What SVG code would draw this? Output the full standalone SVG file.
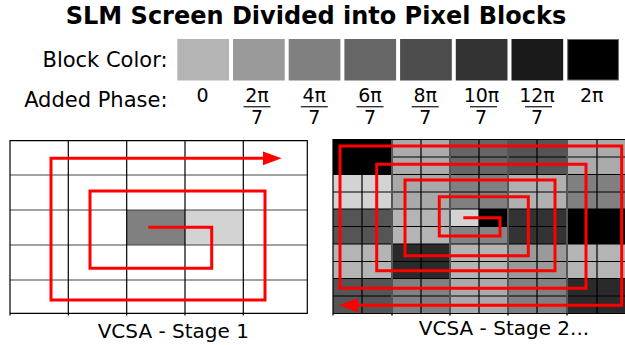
<svg xmlns="http://www.w3.org/2000/svg" width="625" height="345" viewBox="0 0 625 345">
<style>
  .title{font-family:"DejaVu Sans",Verdana,sans-serif;font-weight:bold;font-size:24px;fill:#000}
  .lbl{font-family:"DejaVu Sans",Verdana,sans-serif;font-size:21px;fill:#000}
  .num{font-family:"DejaVu Sans",Verdana,sans-serif;font-size:19px;fill:#000;text-anchor:middle}
  .cap{font-family:"DejaVu Sans",Verdana,sans-serif;font-size:20px;fill:#000;text-anchor:middle}
  .bar{stroke:#333;stroke-width:1.4}
  .gl{stroke:#000;stroke-width:1.2;fill:none}
  .gh{stroke:#444;stroke-width:1.2;fill:none}
  .gm{stroke:#555;stroke-width:2;fill:none}
  .spiral{fill:none;stroke:#ff0000;stroke-width:3;stroke-linejoin:miter}
</style>
<defs>
  <marker id="arr" viewBox="0 0 19 14" refX="11" refY="7" markerWidth="19" markerHeight="14" markerUnits="userSpaceOnUse" orient="auto">
    <path d="M0,0 L19,7 L0,14 Z" fill="#ff0000"/>
  </marker>
</defs>
<rect width="625" height="345" fill="#fff"/>

<g id="title">
  <text class="title" x="316" y="23.5" text-anchor="middle">SLM Screen Divided into Pixel Blocks</text>
</g>

<g id="legend">
  <text class="lbl" x="167.5" y="66.7" text-anchor="end">Block Color:</text>
  <text class="lbl" x="167.5" y="106.7" text-anchor="end">Added Phase:</text>
  <rect x="177.3" y="39" width="51.7" height="41.5" fill="#b4b4b4"/>
  <rect x="233" y="39" width="51.7" height="41.5" fill="#9a9a9a"/>
  <rect x="288.7" y="39" width="51.7" height="41.5" fill="#808080"/>
  <rect x="344.4" y="39" width="51.7" height="41.5" fill="#676767"/>
  <rect x="400.1" y="39" width="51.7" height="41.5" fill="#4d4d4d"/>
  <rect x="455.8" y="39" width="51.7" height="41.5" fill="#333333"/>
  <rect x="511.5" y="39" width="51.7" height="41.5" fill="#1a1a1a"/>
  <rect x="567.7" y="39.5" width="50.7" height="40.5" fill="#000" stroke="#666" stroke-width="1"/>
  <text class="num" x="202.5" y="101.5">0</text>
  <text class="num" x="257" y="101.5">2π</text>
  <line class="bar" x1="243.5" y1="106.7" x2="270.5" y2="106.7"/>
  <text class="num" x="257" y="124.2">7</text>
  <text class="num" x="314.3" y="101.5">4π</text>
  <line class="bar" x1="300.8" y1="106.7" x2="327.8" y2="106.7"/>
  <text class="num" x="314.3" y="124.2">7</text>
  <text class="num" x="370" y="101.5">6π</text>
  <line class="bar" x1="356.5" y1="106.7" x2="383.5" y2="106.7"/>
  <text class="num" x="370" y="124.2">7</text>
  <text class="num" x="425.2" y="101.5">8π</text>
  <line class="bar" x1="411.7" y1="106.7" x2="438.7" y2="106.7"/>
  <text class="num" x="425.2" y="124.2">7</text>
  <text class="num" x="481.5" y="101.5">10π</text>
  <line class="bar" x1="470" y1="106.7" x2="497" y2="106.7"/>
  <text class="num" x="481" y="124.2">7</text>
  <text class="num" x="537" y="101.5">12π</text>
  <line class="bar" x1="525" y1="106.7" x2="552" y2="106.7"/>
  <text class="num" x="537" y="124.2">7</text>
  <text class="num" x="591.7" y="101.5">2π</text>
</g>

<g id="grid-stage1">
  <rect x="126.7" y="210" width="58.3" height="35" fill="#808080"/>
  <rect x="185" y="210" width="58.3" height="35" fill="#d3d3d3"/>
  <path class="gh" d="M10,175 H307.3 M10,210 H307.3 M10,245 H307.3 M10,280 H307.3"/>
  <path class="gl" d="M68.3,140.7 V315.5 M126.7,140.7 V315.5 M185,140.7 V315.5 M243.3,140.7 V315.5"/>
  <path class="gl" d="M10,315.5 V140.7 H307.3 V313.3 H10"/>
</g>

<g id="grid-stage2">
  <rect x="333" y="139.5" width="59" height="35" fill="#000"/>
  <rect x="392" y="139.5" width="58" height="35" fill="#aaaaaa"/>
  <rect x="450" y="139.5" width="58" height="35" fill="#666666"/>
  <rect x="508" y="139.5" width="59" height="35" fill="#555555"/>
  <rect x="567" y="139.5" width="59" height="35" fill="#aaaaaa"/>

  <rect x="333" y="174.5" width="59" height="34.5" fill="#d3d3d3"/>
  <rect x="392" y="174.5" width="58" height="34.5" fill="#a9a9a9"/>
  <rect x="450" y="174.5" width="58" height="34.5" fill="#808080"/>
  <rect x="508" y="174.5" width="59" height="34.5" fill="#b0b0b0"/>
  <rect x="567" y="174.5" width="59" height="34.5" fill="#808080"/>

  <rect x="333" y="209" width="59" height="35" fill="#555555"/>
  <rect x="392" y="209" width="58" height="35" fill="#b4b4b4"/>
  <rect x="450" y="209" width="29" height="17.5" fill="#d3d3d3"/>
  <rect x="479" y="209" width="29" height="17.5" fill="#000"/>
  <rect x="450" y="226.5" width="58" height="17.5" fill="#848484"/>
  <rect x="508" y="209" width="59" height="35" fill="#333333"/>
  <rect x="567" y="209" width="59" height="35" fill="#000"/>

  <rect x="333" y="244" width="59" height="34.5" fill="#b4b4b4"/>
  <rect x="392" y="244" width="58" height="34.5" fill="#2a2a2a"/>
  <rect x="450" y="244" width="58" height="34.5" fill="#b4b4b4"/>
  <rect x="508" y="244" width="59" height="34.5" fill="#9a9a9a"/>
  <rect x="567" y="244" width="59" height="34.5" fill="#b4b4b4"/>

  <rect x="333" y="278.5" width="59" height="35" fill="#555555"/>
  <rect x="392" y="278.5" width="58" height="35" fill="#808080"/>
  <rect x="450" y="278.5" width="58" height="35" fill="#aaaaaa"/>
  <rect x="508" y="278.5" width="59" height="35" fill="#808080"/>
  <rect x="567" y="278.5" width="59" height="35" fill="#2a2a2a"/>

  <path class="gl" d="M333,157 H626 M333,174.5 H626 M333,192 H626 M333,209 H626 M333,226.5 H626 M333,244 H626 M333,261.5 H626 M333,278.5 H626 M333,296 H626"/>
  <path class="gl" d="M362,139.5 V313.5 M421,139.5 V313.5 M479,139.5 V313.5 M537,139.5 V313.5 M597,139.5 V313.5"/>
  <path class="gm" d="M392,139.5 V315.5 M450,139.5 V315.5 M508,139.5 V315.5 M567,139.5 V315.5"/>
  <path class="gl" d="M333,315.5 V139.5 H626 M333,313.5 H626"/>
</g>

<g id="connectors">
  <path class="spiral" d="M148.3,227.3 H211.7 V268.3 H90 V191 H265 V300 H51 V158.3 H273.7" marker-end="url(#arr)"/>
  <path class="spiral" d="M463.3,217.7 H500 V236 H439.3 V196.7 H528.3 V255.7 H405 V180 H555 V270.7 H376.7 V164.3 H586 V288.3 H340 V146 H621.7 V305.3 H347" marker-end="url(#arr)"/>
</g>

<g id="captions">
  <text class="cap" x="173.3" y="338.3">VCSA - Stage 1</text>
  <text class="cap" x="504" y="335">VCSA - Stage 2...</text>
</g>
</svg>
